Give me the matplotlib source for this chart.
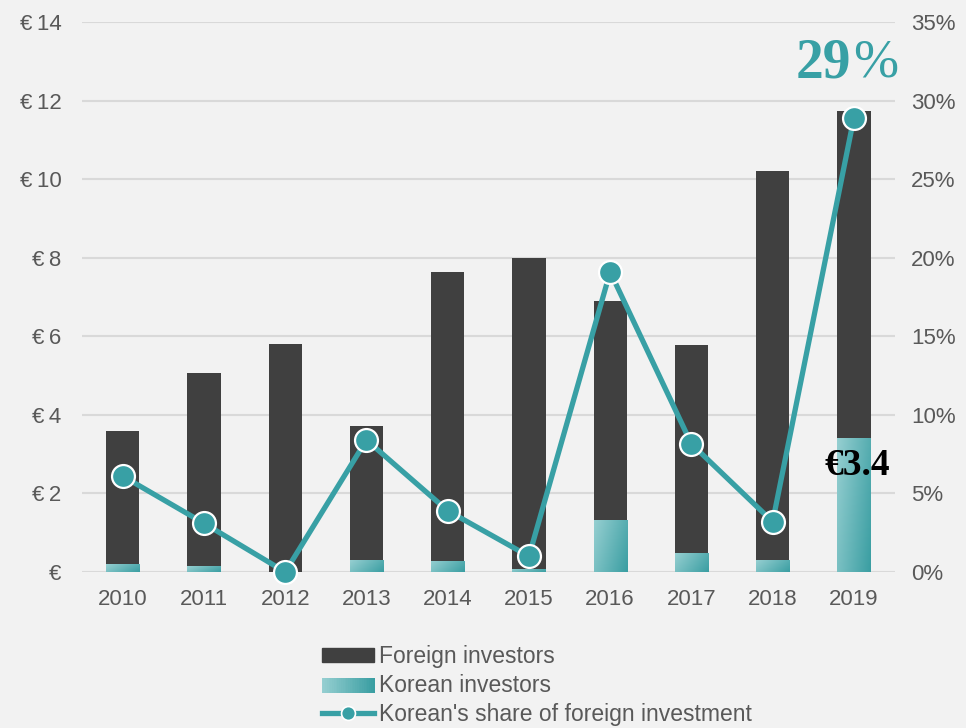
import numpy as np
import matplotlib.pyplot as plt
from matplotlib.lines import Line2D
from matplotlib.patches import Patch, Rectangle
from matplotlib.colors import LinearSegmentedColormap

plt.rcParams['font.family'] = ['Liberation Sans', 'DejaVu Sans']

years = ['2010', '2011', '2012', '2013', '2014', '2015', '2016', '2017', '2018', '2019']
korean = [0.2, 0.15, 0.0, 0.3, 0.28, 0.08, 1.32, 0.48, 0.3, 3.4]
total = [3.6, 5.06, 5.8, 3.72, 7.64, 7.99, 6.9, 5.78, 10.2, 11.73]
foreign = [t - k for t, k in zip(total, korean)]
share = [6.1, 3.1, 0.0, 8.4, 3.9, 1.0, 19.1, 8.15, 3.2, 28.9]

bg = '#F2F2F2'
dark = '#404040'
teal = '#38A0A5'
txt = '#595959'
grad = LinearSegmentedColormap.from_list('k', ['#96CFD1', '#3A9EA2'])


class GradHandler:
    # legend handle drawn as thin colour strips
    def legend_artist(self, legend, orig_handle, fontsize, handlebox):
        x0, y0 = handlebox.xdescent, handlebox.ydescent
        wd, ht = handlebox.width, handlebox.height
        n = 30
        for i in range(n):
            r = Rectangle((x0 + wd * i / n, y0), wd / n + 0.3, ht, color=grad(i / (n - 1)),
                          lw=0, transform=handlebox.get_transform())
            handlebox.add_artist(r)
        return r


fig = plt.figure(figsize=(9.66, 7.28), dpi=100, facecolor=bg)
ax = fig.add_axes([0.085, 0.2143, 0.841, 0.7555], facecolor=bg)
x = np.arange(len(years))
w = 0.41

for yv in range(0, 15, 2):
    ax.axhline(yv, color='#D9D9D9', lw=1.5, zorder=0)

ax.bar(x, foreign, w, bottom=korean, color=dark, zorder=2)
kbars = ax.bar(x, korean, w, color='none', zorder=2)

# gradient fill for the Korean bars
gy, gx = np.mgrid[0:1:60j, 0:1:60j]
g = (gx * 0.7 + gy * 0.3)
for b in kbars:
    if b.get_height() <= 0:
        continue
    x0, y0 = b.get_x(), b.get_y()
    im = ax.imshow(g, cmap=grad, extent=(x0, x0 + b.get_width(), y0, y0 + b.get_height()),
                   origin='upper', aspect='auto', zorder=2.5, interpolation='bilinear')
    im.set_clip_path(b)

ax.set_xlim(-0.5, 9.5)
ax.set_ylim(0, 14)
ax.set_xticks(x)
ax.set_xticklabels(years)
ax.set_yticks(range(0, 15, 2))
ax.set_yticklabels(['€'] + ['€\u2009%d' % v for v in range(2, 15, 2)])
ax.tick_params(length=0, labelsize=16, colors=txt)
ax.tick_params(axis='x', pad=12)
ax.tick_params(axis='y', pad=15)
for s in ax.spines.values():
    s.set_visible(False)

ax2 = ax.twinx()
ax2.set_ylim(0, 35)
ax2.set_yticks(range(0, 36, 5))
ax2.set_yticklabels(['%d%%' % v for v in range(0, 36, 5)])
ax2.tick_params(length=0, labelsize=16, colors=txt, pad=12)
for s in ax2.spines.values():
    s.set_visible(False)
ax2.plot(x, share, color=teal, lw=3.8, marker='o', ms=16.5, mfc=teal, mec='white', mew=1.6,
         zorder=5, clip_on=False)

ax2.text(8.96, 32.35, '29', color=teal, fontsize=40, fontweight='bold', ha='right', va='center',
         family='Liberation Serif')
ax2.text(8.99, 32.35, '%', color=teal, fontsize=39, ha='left', va='center', family='Liberation Serif')
ax.text(9.04, 2.72, '€3.4', color='black', fontsize=27, fontweight='bold', ha='center', va='center',
        family='Liberation Serif', zorder=6)

handles = [Patch(color=dark), Patch(color='#6BB8BB'),
           Line2D([], [], color=teal, lw=3.8, marker='o', ms=10, mfc=teal, mec='white', mew=1.2)]
labels = ['Foreign investors', 'Korean investors', "Korean's share of foreign investment"]
leg = fig.legend(handles, labels, loc='upper left', bbox_to_anchor=(0.333, 0.114), frameon=False,
                 fontsize=16.5, labelcolor=txt, handlelength=2.3, handleheight=0.6,
                 handletextpad=0.2, labelspacing=0.26, borderpad=0, borderaxespad=0,
                 handler_map={handles[1]: GradHandler()})

fig.savefig('out.png', dpi=100, facecolor=bg)
